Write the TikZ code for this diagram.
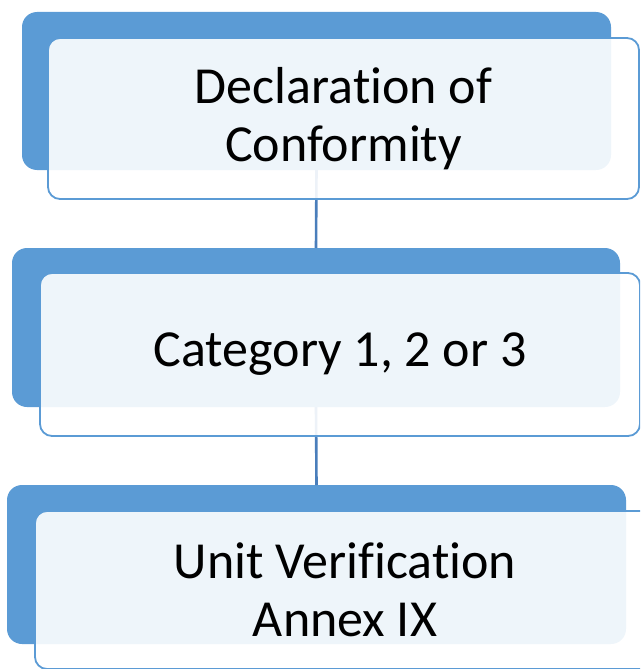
\documentclass[tikz,border=0pt]{standalone}
\usepackage{fontspec}
\setmainfont{Carlito}[Ligatures={NoCommon,NoRequired,NoContextual}]
\definecolor{backblue}{HTML}{5B9BD5}
\definecolor{connblue}{HTML}{4A7EBB}
\begin{document}
\begin{tikzpicture}[x=1pt,y=-1pt,
  backbox/.style={fill=backblue, draw=none, rounded corners=15pt, inner sep=0pt, outer sep=0pt},
  frontbox/.style={draw=backblue, line width=1.8pt, fill=white, fill opacity=0.9, text opacity=1,
    rounded corners=12pt, inner sep=0pt, outer sep=0pt, align=center,
    font=\fontsize{52}{58}\selectfont},
  conn/.style={draw=connblue, line width=2.6pt}]
\useasboundingbox (0,0) rectangle (640,669);
\clip (0,0) rectangle (640,669);
% back boxes
\node[backbox, minimum width=589pt, minimum height=158pt] (b1) at (316.5,91) {};
\node[backbox, minimum width=608pt, minimum height=159pt] (b2) at (316,327.5) {};
\node[backbox, minimum width=619pt, minimum height=159pt] (b3) at (316.5,564.5) {};
% connectors
\draw[conn] (b1.south) -- (b2.north);
\draw[conn] (b2.south) -- (b3.north);
% front boxes
\node[frontbox, minimum width=591pt, minimum height=161pt] (f1) at (343.5,118.5) {Declaration of\\Conformity};
\node[frontbox, minimum width=600pt, minimum height=163pt] (f2) at (340,354.5) {Category 1, 2 or 3};
\node[frontbox, minimum width=620pt, minimum height=158pt] (f3) at (345,590) {Unit Verification\\Annex IX};
\end{tikzpicture}
\end{document}
